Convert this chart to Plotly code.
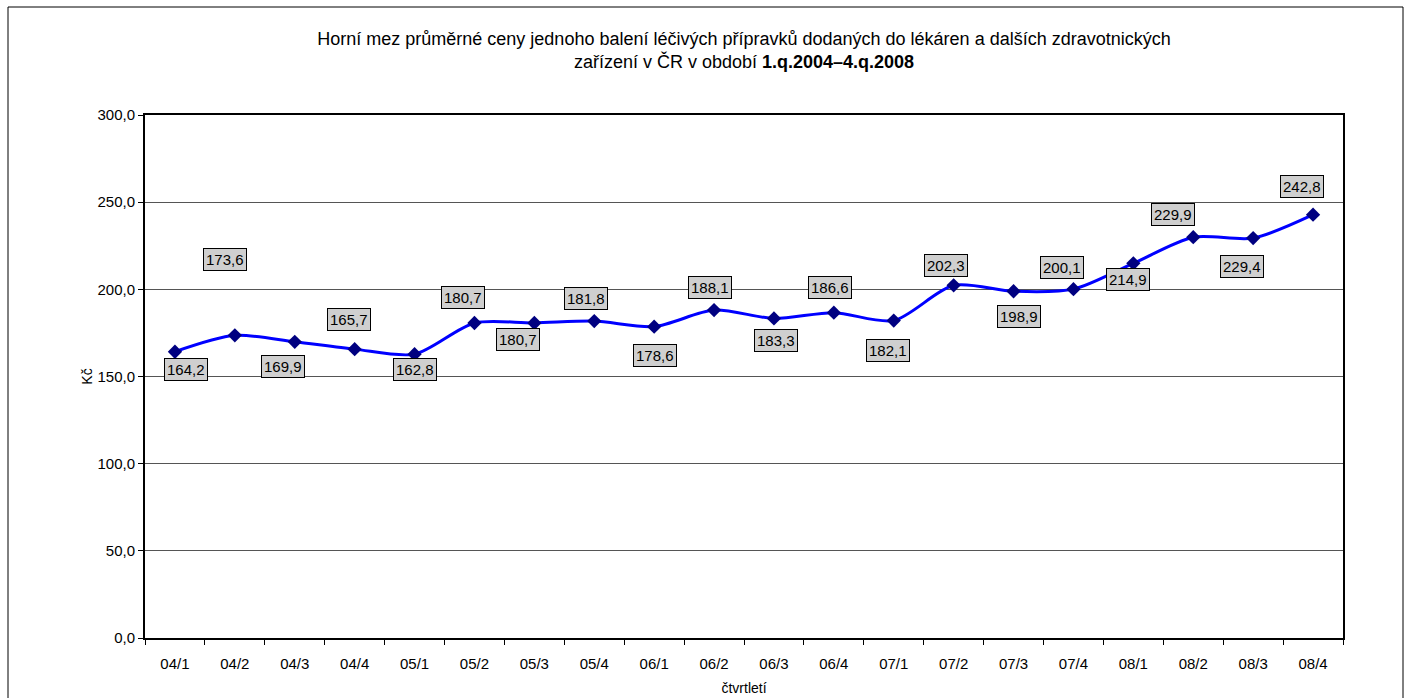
import plotly.graph_objects as go

# Quarterly categories (YY/quarter)
quarters = ["04/1", "04/2", "04/3", "04/4", "05/1", "05/2", "05/3", "05/4",
            "06/1", "06/2", "06/3", "06/4", "07/1", "07/2", "07/3", "07/4",
            "08/1", "08/2", "08/3", "08/4"]

# Upper limit of average price per package (CZK)
prices = [164.2, 173.6, 169.9, 165.7, 162.8, 180.7, 180.7, 181.8, 178.6, 188.1,
          183.3, 186.6, 182.1, 202.3, 198.9, 200.1, 214.9, 229.9, 229.4, 242.8]

y_ticks = [0, 50, 100, 150, 200, 250, 300]

# Pixel offsets of the value callouts relative to their points
label_dx = [11, -10, -12, -6, 0, -11, -16, -8, 1, -4,
            2, -4, -6, -8, 5, -11, -5, -20, -11, -11]
label_dy = [-18, 76, -25, 30, -15, 25, -17, 23, -29, 23,
            -22, 25, -30, 20, -25, 22, -16, 23, -28, 28]

FONT = "Liberation Sans, Arial, sans-serif"
W, H = 1405, 698
L, R, T, B = 145, 62, 115, 60
pw, ph = W - L - R, H - T - B

fig = go.Figure()
fig.add_trace(go.Scatter(
    x=quarters, y=prices, mode="lines+markers",
    line=dict(color="#0000ff", width=3, shape="spline", smoothing=0.8),
    marker=dict(symbol="diamond", size=11, color="#000080",
                line=dict(width=0)),
    hoverinfo="x+y", showlegend=False, cliponaxis=False,
))

annotations = []
for q, v, dx, dy in zip(quarters, prices, label_dx, label_dy):
    annotations.append(dict(
        x=q, y=v, xref="x", yref="y", text=f"{v:.1f}".replace(".", ","),
        showarrow=False, xshift=dx, yshift=dy,
        font=dict(family=FONT, size=15, color="#000000"),
        bgcolor="#cfcfcf", bordercolor="#000000", borderwidth=1, borderpad=2,
    ))

fig.update_layout(
    width=W, height=H,
    margin=dict(l=L, r=R, t=T, b=B),
    paper_bgcolor="white", plot_bgcolor="white",
    separators=", ",
    font=dict(family=FONT, size=14, color="#000000"),
    title=dict(
        text="Horní mez průměrné ceny jednoho balení léčivých přípravků dodaných do lékáren a dalších zdravotnických<br>"
             "zařízení v ČR v období <b>1.q.2004–4.q.2008</b>",
        x=0.5, xref="paper", xanchor="center",
        y=1 - 45 / H, yanchor="middle",
        font=dict(size=18, family=FONT),
    ),
    xaxis=dict(
        type="category", range=[-0.5, len(quarters) - 0.5], automargin=False,
        showline=True, linecolor="#000000", linewidth=2, mirror=True,
        ticks="outside", ticklen=5, tickcolor="#000000", tickwidth=1,
        tickson="boundaries", showgrid=False, zeroline=False,
        tickfont=dict(size=15), ticklabelstandoff=11,
        title=dict(text="čtvrtletí", font=dict(size=14), standoff=12),
    ),
    yaxis=dict(
        range=[0, 300], tickvals=y_ticks, tickformat=".1f", automargin=False,
        showline=True, linecolor="#000000", linewidth=2, mirror=True,
        ticks="outside", ticklen=5, tickcolor="#000000",
        showgrid=True, gridcolor="#555555", gridwidth=1, zeroline=False,
        tickfont=dict(size=15),
        title=dict(text="Kč", font=dict(size=14), standoff=2),
    ),
    annotations=annotations,
    shapes=[dict(
        type="rect", xref="paper", yref="paper",
        x0=(8 - L) / pw, x1=(1403 - L) / pw,
        y0=(T + ph - (H + 5)) / ph, y1=(T + ph - 7) / ph,
        line=dict(color="#000000", width=1), fillcolor="rgba(0,0,0,0)",
        layer="below",
    )],
)

fig.write_html("out.html")
